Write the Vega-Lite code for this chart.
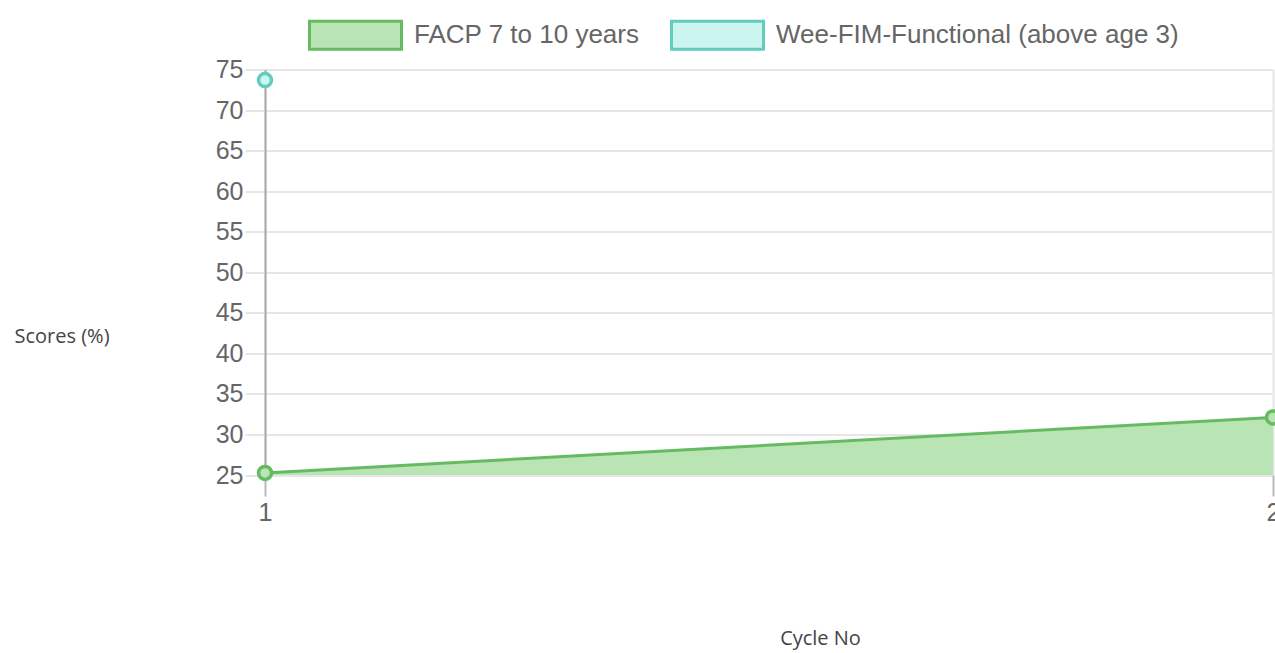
{
  "$schema": "https://vega.github.io/schema/vega-lite/v6.json",
  "autosize": {"type": "none"},
  "padding": {"left": 265, "top": 69.5, "right": 2, "bottom": 178},
  "width": 1008,
  "height": 405.5,
  "background": "white",
  "data": {
    "values": [
      {"cycle": 1, "series": "FACP 7 to 10 years", "score": 25.25},
      {"cycle": 2, "series": "FACP 7 to 10 years", "score": 32.1},
      {"cycle": 1, "series": "Wee-FIM-Functional (above age 3)", "score": 73.7}
    ]
  },
  "encoding": {
    "x": {
      "field": "cycle",
      "type": "quantitative",
      "scale": {"domain": [1, 2], "nice": false, "zero": false},
      "axis": {
        "values": [1, 2],
        "format": "d",
        "title": "Cycle No",
        "titleFont": "Open Sans",
        "titleFontSize": 20,
        "titleFontWeight": "normal",
        "titleColor": "#444",
        "titleX": 555,
        "titleY": 163,
        "titleAlign": "center",
        "titleBaseline": "middle",
        "labelFont": "Liberation Sans",
        "labelFontSize": 25,
        "labelColor": "#666",
        "labelPadding": 4,
        "labelFlush": false,
        "tickSize": 21,
        "tickColor": "#bbb",
        "tickWidth": 2,
        "grid": true,
        "gridColor": "#e6e6e6",
        "gridWidth": 2,
        "domain": false
      }
    },
    "y": {
      "field": "score",
      "type": "quantitative",
      "stack": null,
      "scale": {"domain": [25, 75], "nice": false, "zero": false},
      "axis": {
        "values": [25, 30, 35, 40, 45, 50, 55, 60, 65, 70, 75],
        "title": "Scores (%)",
        "titleAngle": 0,
        "titleFont": "Open Sans",
        "titleFontSize": 20,
        "titleFontWeight": "normal",
        "titleColor": "#444",
        "titleX": -251,
        "titleY": 266.5,
        "titleAlign": "left",
        "titleBaseline": "middle",
        "labelFont": "Liberation Sans",
        "labelFontSize": 25,
        "labelColor": "#666",
        "labelPadding": 2,
        "tickSize": 20,
        "tickColor": "#e6e6e6",
        "tickWidth": 2,
        "grid": true,
        "gridColor": "#e6e6e6",
        "gridWidth": 2,
        "domainColor": "#aaa",
        "domainWidth": 2
      }
    }
  },
  "layer": [
    {
      "mark": {"type": "area", "opacity": 1},
      "encoding": {
        "fill": {
          "field": "series",
          "type": "nominal",
          "scale": {
            "domain": ["FACP 7 to 10 years", "Wee-FIM-Functional (above age 3)"],
            "range": ["#b9e5b4", "#ccf5f0"]
          },
          "legend": {
            "title": null,
            "orient": "none",
            "legendX": 43,
            "legendY": -82,
            "direction": "horizontal",
            "padding": 0,
            "symbolType": "M-1,-0.304H1V0.304H-1Z",
            "symbolSize": 8464,
            "symbolStrokeWidth": 3,
            "symbolOpacity": 1,
            "labelFont": "Liberation Sans",
            "labelFontSize": 26,
            "labelColor": "#666",
            "labelOffset": 11,
            "columnPadding": 25,
            "labelLimit": 600
          }
        }
      }
    },
    {
      "mark": {"type": "line", "strokeWidth": 3},
      "encoding": {
        "stroke": {
          "field": "series",
          "type": "nominal",
          "scale": {
            "domain": ["FACP 7 to 10 years", "Wee-FIM-Functional (above age 3)"],
            "range": ["#66bb62", "#60cdbf"]
          },
          "legend": {
            "title": null,
            "orient": "none",
            "legendX": 43,
            "legendY": -82,
            "direction": "horizontal",
            "padding": 0,
            "symbolType": "M-1,-0.304H1V0.304H-1Z",
            "symbolSize": 8464,
            "symbolStrokeWidth": 3,
            "symbolOpacity": 1,
            "labelFont": "Liberation Sans",
            "labelFontSize": 26,
            "labelColor": "#666",
            "labelOffset": 11,
            "columnPadding": 25,
            "labelLimit": 600
          }
        }
      }
    },
    {
      "mark": {"type": "point", "shape": "circle", "filled": false, "size": 170, "strokeWidth": 3.5, "opacity": 1, "clip": false},
      "encoding": {
        "stroke": {"field": "series", "type": "nominal"},
        "fill": {"field": "series", "type": "nominal"}
      }
    }
  ],
  "config": {
    "view": {"stroke": null}
  }
}
